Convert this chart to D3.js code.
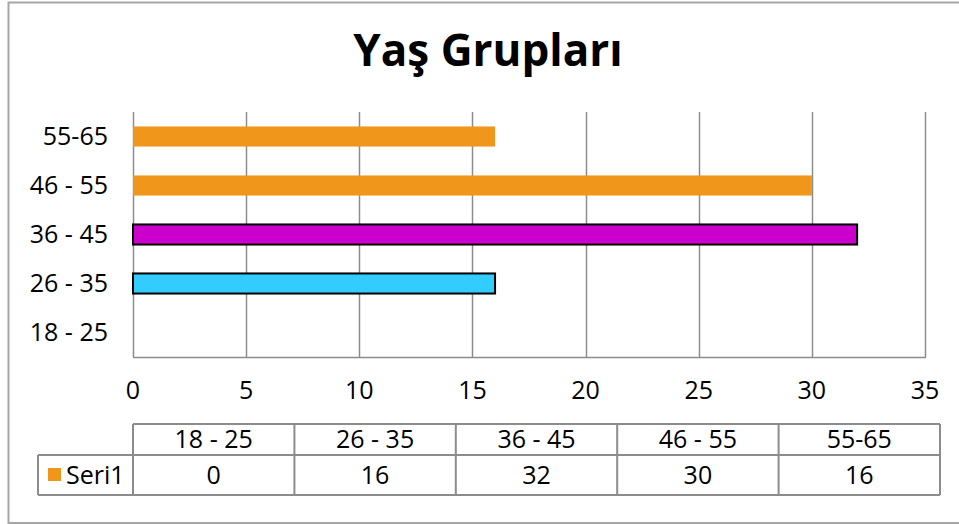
<!DOCTYPE html>
<html>
<head>
<meta charset="utf-8">
<script src="https://cdn.jsdelivr.net/npm/d3@7"></script>
<style>
  html, body { margin: 0; padding: 0; background: #fff; }
  svg { display: block; font-family: "Open Sans", sans-serif; }
</style>
</head>
<body>
<svg id="chart" width="959" height="524"></svg>
<script>
const title = "Yaş Grupları";
const categories = ["18 - 25", "26 - 35", "36 - 45", "46 - 55", "55-65"];
const values = [0, 16, 32, 30, 16];
const seriesName = "Seri1";
const xTicks = [0, 5, 10, 15, 20, 25, 30, 35];
const barColors = ["#33CCFF", "#33CCFF", "#CC00CC", "#F0961A", "#F0961A"];
const barOutlined = [true, true, true, false, false];
const legendColor = "#F0961A";

const svg = d3.select("#chart");
const plot = { left: 133, right: 925, top: 112, bottom: 357 };
const fs = 25;

// outer chart border
svg.append("rect")
  .attr("x", 8.5).attr("y", 2.5)
  .attr("width", 1000).attr("height", 520.5)
  .attr("fill", "none").attr("stroke", "#a6a6a6").attr("stroke-width", 2);

// title
svg.append("text")
  .attr("x", 488).attr("y", 66)
  .attr("text-anchor", "middle")
  .attr("font-size", 44).attr("font-weight", "bold")
  .attr("fill", "#000")
  .text(title);

const x = d3.scaleLinear().domain([0, 35]).range([plot.left, plot.right]);
const y = d3.scaleBand().domain(categories.slice().reverse())
  .range([plot.top, plot.bottom]).paddingInner(0.59).paddingOuter(0.295);

// gridlines
svg.append("g").selectAll("line").data(xTicks).join("line")
  .attr("x1", d => Math.round(x(d)) + 0.5).attr("x2", d => Math.round(x(d)) + 0.5)
  .attr("y1", plot.top).attr("y2", plot.bottom)
  .attr("stroke", "#8c8c8c").attr("stroke-width", 1.5);

// bottom axis line
svg.append("line")
  .attr("x1", plot.left).attr("x2", plot.right + 1)
  .attr("y1", plot.bottom + 0.5).attr("y2", plot.bottom + 0.5)
  .attr("stroke", "#8c8c8c").attr("stroke-width", 1.5);

// bars
svg.append("g").selectAll("rect").data(categories).join("rect")
  .attr("x", x(0))
  .attr("y", d => y(d))
  .attr("width", (d, i) => x(values[i]) - x(0))
  .attr("height", y.bandwidth())
  .attr("fill", (d, i) => barColors[i])
  .attr("stroke", (d, i) => barOutlined[i] ? "#000" : "none")
  .attr("stroke-width", 2)
  .style("display", (d, i) => values[i] === 0 ? "none" : null);

// x tick labels
svg.append("g").selectAll("text").data(xTicks).join("text")
  .attr("x", d => x(d)).attr("y", 399)
  .attr("text-anchor", "middle").attr("font-size", fs).attr("fill", "#000")
  .text(d => d);

// y labels
svg.append("g").selectAll("text").data(categories).join("text")
  .attr("x", 108).attr("y", d => y(d) + y.bandwidth() / 2)
  .attr("dy", "0.35em")
  .attr("text-anchor", "end").attr("font-size", fs).attr("fill", "#000")
  .text(d => d);

// data table
const tbl = { left: 133, right: 940, top: 424, mid: 455, bottom: 495, legLeft: 38 };
const col = d3.scaleBand().domain(categories).range([tbl.left, tbl.right]);
const tg = svg.append("g");
const gstroke = "#8c8c8c";
tg.append("line").attr("x1", tbl.left).attr("x2", tbl.right).attr("y1", tbl.top).attr("y2", tbl.top).attr("stroke", gstroke).attr("stroke-width", 2);
tg.append("line").attr("x1", tbl.legLeft).attr("x2", tbl.right).attr("y1", tbl.mid).attr("y2", tbl.mid).attr("stroke", gstroke).attr("stroke-width", 2);
tg.append("line").attr("x1", tbl.legLeft).attr("x2", tbl.right).attr("y1", tbl.bottom).attr("y2", tbl.bottom).attr("stroke", gstroke).attr("stroke-width", 2);
tg.append("line").attr("x1", tbl.legLeft).attr("x2", tbl.legLeft).attr("y1", tbl.mid).attr("y2", tbl.bottom).attr("stroke", gstroke).attr("stroke-width", 2);
const vlines = categories.map(c => col(c)).concat([tbl.right]);
tg.selectAll("line.v").data(vlines).join("line").attr("class", "v")
  .attr("x1", d => d).attr("x2", d => d)
  .attr("y1", tbl.top).attr("y2", tbl.bottom)
  .attr("stroke", gstroke).attr("stroke-width", 2);
tg.selectAll("text.h").data(categories).join("text").attr("class", "h")
  .attr("x", d => col(d) + col.bandwidth() / 2).attr("y", (tbl.top + tbl.mid) / 2)
  .attr("dy", "0.35em").attr("text-anchor", "middle").attr("font-size", fs)
  .text(d => d);
tg.selectAll("text.v").data(categories).join("text").attr("class", "v")
  .attr("x", d => col(d) + col.bandwidth() / 2).attr("y", (tbl.mid + tbl.bottom) / 2)
  .attr("dy", "0.35em").attr("text-anchor", "middle").attr("font-size", fs)
  .text((d, i) => values[i]);
// legend key
tg.append("rect").attr("x", 48).attr("y", 468).attr("width", 13).attr("height", 13).attr("fill", legendColor);
tg.append("text").attr("x", 66).attr("y", (tbl.mid + tbl.bottom) / 2).attr("dy", "0.35em")
  .attr("font-size", fs).text(seriesName);
</script>
</body>
</html>
